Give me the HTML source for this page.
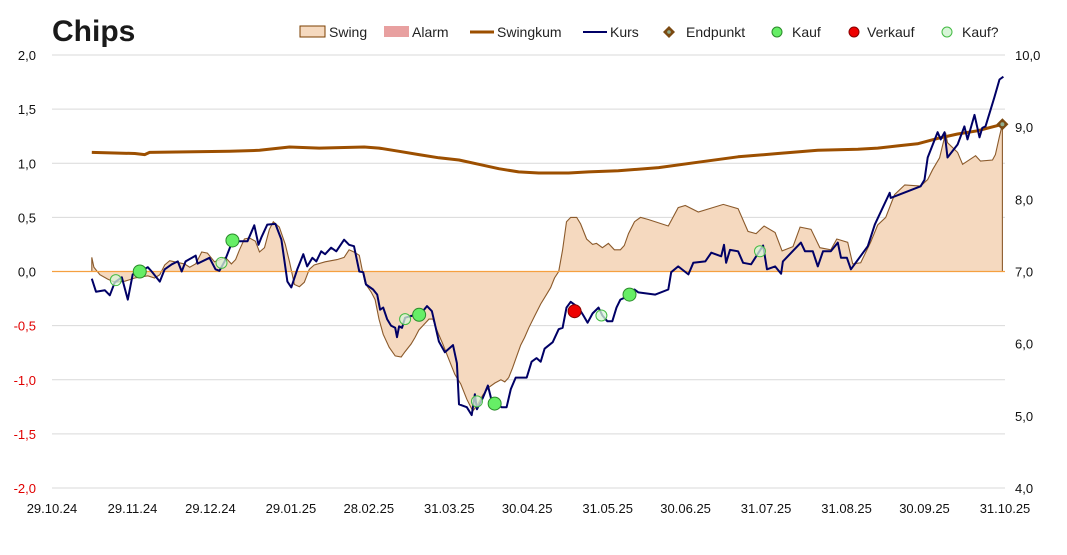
<!DOCTYPE html>
<html><head><meta charset="utf-8">
<style>
html,body{margin:0;padding:0;background:#fff;}
svg{display:block;font-family:"Liberation Sans",Arial,sans-serif;}
</style></head>
<body>
<svg id="chart" width="1067" height="555" viewBox="0 0 1067 555" xmlns="http://www.w3.org/2000/svg">
<text x="52" y="41" font-size="30" font-weight="bold" fill="#1a1a1a">Chips</text>
<g id="legend" font-size="14" fill="#222">
  <g><rect x="300" y="26" width="25" height="11" fill="#f5d9bf" stroke="#7b3f00" stroke-width="1"/><text x="329" y="37">Swing</text></g>
  <g><rect x="384" y="26" width="25" height="11" fill="#e8a0a0"/><text x="412" y="37">Alarm</text></g>
  <g><line x1="470" y1="32" x2="494" y2="32" stroke="#9c4f00" stroke-width="3"/><text x="497" y="37">Swingkum</text></g>
  <g><line x1="583" y1="32" x2="607" y2="32" stroke="#000066" stroke-width="2"/><text x="610" y="37">Kurs</text></g>
  <g><polygon points="669,26 675,32 669,38 663,32" fill="#7b4a12"/><circle cx="669" cy="32" r="1.8" fill="#8fae8f"/><text x="686" y="37">Endpunkt</text></g>
  <g><circle cx="777" cy="32" r="5" fill="#66ee66" stroke="#2a8a2a" stroke-width="1"/><text x="792" y="37">Kauf</text></g>
  <g><circle cx="854" cy="32" r="5" fill="#ee0000" stroke="#880000" stroke-width="1"/><text x="867" y="37">Verkauf</text></g>
  <g><circle cx="947" cy="32" r="5" fill="#d8f5d8" stroke="#44bb44" stroke-width="1"/><text x="962" y="37">Kauf?</text></g>
</g>
<g id="grid"></g>
<g id="swingArea"></g>
<g id="zero"></g>
<g id="lines"></g>
<g id="markers"></g>
<g id="axes" font-size="13"></g>
</svg>
<script>
const xTickDays=[0,31,61,92,122,153,183,214,244,275,306,336,367];
const xTickLabels=["29.10.24","29.11.24","29.12.24","29.01.25","28.02.25","31.03.25","30.04.25","31.05.25","30.06.25","31.07.25","31.08.25","30.09.25","31.10.25"];
const leftTicks=[2,1.5,1,0.5,0,-0.5,-1,-1.5,-2];
const rightTicks=[10,9,8,7,6,5,4];

const kursDays=[15.3,16.9,20.3,22.2,24.1,26.8,29.1,31.0,33.7,36.8,38.3,41.4,43.3,46.0,48.3,49.8,51.3,55.2,55.9,60.5,62.8,64.3,66.3,69.3,75.1,77.7,79.3,80.4,82.7,85.8,88.1,90.4,91.9,94.2,96.5,98.0,100.0,101.5,103.4,104.9,107.2,109.2,112.2,114.1,116.0,118.0,119.5,120.6,123.3,124.9,126.0,127.2,128.7,130.2,131.8,132.5,133.3,134.4,135.6,138.6,141.3,144.0,145.9,148.6,150.9,154.0,155.5,156.3,159.3,161.2,162.4,163.2,165.5,167.4,168.9,172.7,174.6,176.2,178.1,182.3,184.2,186.1,187.7,189.2,192.3,194.6,196.1,197.6,199.2,202.2,204.1,205.7,207.6,209.9,211.4,213.3,215.2,216.8,218.3,220.6,222.1,223.7,225.2,231.7,236.7,237.8,240.5,244.4,246.3,250.9,253.2,257.0,258.1,258.9,260.4,263.5,265.4,268.5,273.1,274.6,277.7,280.0,280.7,287.6,289.2,292.2,294.1,296.1,299.1,301.8,303.0,305.3,306.8,313.3,316.0,321.7,322.1,333.6,335.1,336.3,340.1,341.3,342.8,343.9,347.8,350.4,351.6,354.3,356.2,357.3,358.5,361.9,363.9,365.4];
const kursValues=[6.90,6.72,6.74,6.67,6.85,6.92,6.61,6.96,7.00,7.06,7.00,6.86,7.03,7.10,7.14,7.00,7.14,7.22,7.11,7.19,7.03,7.01,7.14,7.42,7.42,7.64,7.37,7.47,7.65,7.66,7.44,6.86,6.78,7.03,7.24,7.07,7.19,7.14,7.28,7.24,7.33,7.28,7.44,7.37,7.35,7.00,6.99,6.82,6.75,6.68,6.47,6.50,6.34,6.25,6.22,6.09,6.24,6.22,6.36,6.39,6.40,6.52,6.45,6.03,5.88,5.98,5.73,5.16,5.12,5.01,5.30,5.09,5.25,5.42,5.20,5.12,5.12,5.37,5.53,5.53,5.75,5.80,5.75,5.93,6.02,6.20,6.22,6.50,6.58,6.50,6.39,6.29,6.42,6.50,6.39,6.31,6.31,6.50,6.61,6.65,6.72,6.75,6.71,6.68,6.75,6.99,7.07,6.96,7.12,7.14,7.26,7.21,7.37,7.12,7.30,7.28,7.12,7.10,7.36,7.03,7.07,6.97,7.14,7.40,7.28,7.28,7.07,7.28,7.28,7.40,7.19,7.19,7.03,7.35,7.65,8.09,8.02,8.18,8.27,8.58,8.93,8.83,8.93,8.58,8.76,9.01,8.83,9.17,8.86,8.99,9.01,9.41,9.66,9.70];

const swingDays=[15.3,16.1,18.4,21.4,24.1,28.0,31.8,36.8,39.4,41.4,43.3,45.2,50.9,52.9,55.2,57.5,59.7,62.4,66.6,68.9,70.5,72.0,73.9,75.8,78.1,79.7,81.6,83.5,85.0,87.3,89.6,91.2,93.1,95.0,96.9,98.8,100.7,104.9,109.5,112.2,114.1,116.0,118.0,119.1,120.3,122.6,124.1,125.6,127.2,129.5,131.8,134.1,135.6,137.9,139.4,140.9,143.2,144.8,146.3,147.8,150.1,152.4,154.7,157.0,159.3,161.6,163.2,165.5,167.8,170.1,172.4,173.9,175.4,176.9,178.5,180.0,181.5,183.1,185.4,187.7,190.0,191.5,193.0,194.6,196.1,197.6,199.2,201.5,203.0,205.3,207.6,209.1,211.4,213.7,216.0,218.3,219.8,221.4,223.7,226.0,229.0,236.7,240.5,243.2,248.2,257.8,263.5,267.3,270.4,273.5,277.7,280.4,284.6,287.3,291.5,294.9,299.1,301.4,305.6,307.5,310.6,314.4,317.1,320.2,323.6,327.5,333.6,336.3,338.2,340.9,343.2,343.9,347.8,349.7,354.7,356.6,361.2,362.3,363.9,365.0];
const swingValues=[0.13,0.04,-0.03,-0.07,-0.10,-0.09,-0.06,-0.04,-0.06,-0.03,0.06,0.10,0.07,0.04,0.07,0.18,0.17,0.09,0.13,0.07,0.11,0.20,0.30,0.31,0.28,0.18,0.22,0.39,0.46,0.41,0.25,0.09,-0.12,-0.14,-0.10,0.02,0.06,0.09,0.11,0.13,0.20,0.18,0.15,0.02,-0.11,-0.19,-0.26,-0.44,-0.58,-0.70,-0.78,-0.79,-0.74,-0.67,-0.61,-0.54,-0.48,-0.44,-0.44,-0.54,-0.67,-0.81,-0.95,-1.04,-1.18,-1.29,-1.24,-1.14,-1.07,-1.03,-1.00,-1.02,-0.98,-0.89,-0.78,-0.68,-0.61,-0.52,-0.41,-0.30,-0.21,-0.15,-0.06,0.00,0.20,0.46,0.50,0.50,0.44,0.30,0.25,0.26,0.22,0.26,0.20,0.20,0.24,0.35,0.46,0.50,0.48,0.42,0.59,0.61,0.55,0.62,0.58,0.37,0.35,0.42,0.36,0.19,0.23,0.41,0.39,0.22,0.20,0.30,0.27,0.07,0.08,0.27,0.43,0.50,0.71,0.80,0.79,0.85,0.94,1.05,1.28,1.19,1.10,0.99,1.07,1.02,1.03,1.08,1.25,1.36];

const kumDays=[15.3,31.8,35.6,37.5,68.2,79.7,91.2,102.6,119.9,125.6,133.3,140.9,148.6,156.3,163.9,171.6,179.2,186.9,198.4,206.1,217.5,233.0,248.2,263.5,278.8,294.1,309.5,317.1,324.8,332.4,340.1,347.8,355.4,365.0];
const kumValues=[1.10,1.09,1.08,1.10,1.11,1.12,1.15,1.14,1.15,1.14,1.11,1.08,1.05,1.03,0.99,0.95,0.92,0.91,0.91,0.92,0.93,0.96,1.01,1.06,1.09,1.12,1.13,1.14,1.16,1.18,1.23,1.27,1.30,1.36];

const kaufDays=[33.7,69.3,141.0,170.0,221.8];
const kaufValues=[7.00,7.43,6.40,5.17,6.68];
const kaufFragDays=[24.5,65.1,135.6,163.2,211.0,271.9];
const kaufFragValues=[6.88,7.12,6.34,5.20,6.39,7.28];
const verkaufDays=[200.7];
const verkaufValues=[6.45];
const endDay=365.0;
const endValue=1.36;

const X0=52,X1=1005,Y0=55,Y1=488;
const xDomMax=366;
function xs(d){return X0+(X1-X0)*d/xDomMax;}
function yl(v){return Y1-(v+2)/4*(Y1-Y0);}
function yr(v){return Y1-(v-4)/6*(Y1-Y0);}
const NS="http://www.w3.org/2000/svg";
function mk(tag,attrs,parent){const e=document.createElementNS(NS,tag);for(const k in attrs)e.setAttribute(k,attrs[k]);parent.appendChild(e);return e;}

const grid=document.getElementById('grid');
leftTicks.forEach(v=>{ if(v===0) return;
  const l=mk('line',{x1:X0,x2:X1,y1:yl(v),y2:yl(v),stroke:'#d9d9d9','stroke-width':1},grid);
  
  
});

const sa=document.getElementById('swingArea');
let d='M'+xs(swingDays[0])+','+yl(0);
swingDays.forEach((dd,i)=>{d+=' L'+xs(dd).toFixed(1)+','+yl(swingValues[i]).toFixed(1);});
d+=' L'+xs(swingDays[swingDays.length-1])+','+yl(0)+' Z';
const area=mk('path',{d:d,fill:'#f5d9bf',stroke:'none'},sa);


let d2='M'+xs(swingDays[0])+','+yl(0);
swingDays.forEach((dd,i)=>{d2+=' L'+xs(dd).toFixed(1)+','+yl(swingValues[i]).toFixed(1);});
d2+=' L'+xs(swingDays[swingDays.length-1])+','+yl(0);
const sline=mk('path',{d:d2,fill:'none',stroke:'#8b5a2b','stroke-width':1.1},sa);



const z=mk('line',{x1:X0,x2:X1,y1:yl(0),y2:yl(0),stroke:'#f5a040','stroke-width':1.3},document.getElementById('zero'));



const lines=document.getElementById('lines');
function poly(days,vals,scale){return days.map((dd,i)=>xs(dd).toFixed(1)+','+scale(vals[i]).toFixed(1)).join(' ');}
const kum=mk('polyline',{points:poly(kumDays,kumValues,yl),fill:'none',stroke:'#9c4f00','stroke-width':3,'stroke-linejoin':'round'},lines);


const kurs=mk('polyline',{points:poly(kursDays,kursValues,yr),fill:'none',stroke:'#000066','stroke-width':2,'stroke-linejoin':'round'},lines);



const mg=document.getElementById('markers');
kaufFragDays.forEach((dd,i)=>{
  const c=mk('circle',{cx:xs(dd),cy:yr(kaufFragValues[i]),r:5.5,fill:'#d8f5d8','fill-opacity':0.75,stroke:'#44bb44','stroke-width':1},mg);
  
  
});
kaufDays.forEach((dd,i)=>{
  const c=mk('circle',{cx:xs(dd),cy:yr(kaufValues[i]),r:6.5,fill:'#66ee66',stroke:'#2a8a2a','stroke-width':1},mg);
  
  
});
verkaufDays.forEach((dd,i)=>{
  const c=mk('circle',{cx:xs(dd),cy:yr(verkaufValues[i]),r:6.5,fill:'#ee0000',stroke:'#880000','stroke-width':1},mg);
  
  
});
const ex=xs(endDay),ey=yl(endValue);
const ep=mk('polygon',{points:`${ex},${ey-6} ${ex+6},${ey} ${ex},${ey+6} ${ex-6},${ey}`,fill:'#7b4a12'},mg);


const epc=mk('circle',{cx:ex,cy:ey,r:2,fill:'#8fae8f'},mg);



const ax=document.getElementById('axes');
leftTicks.forEach(v=>{
  const t=mk('text',{x:36,y:yl(v)+5,'text-anchor':'end',fill:v<0?'#e00000':'#111'},ax);
  t.textContent=v.toFixed(1).replace('.',',');
  
  
});
rightTicks.forEach(v=>{
  const t=mk('text',{x:1015,y:yr(v)+5,'text-anchor':'start',fill:'#111'},ax);
  t.textContent=v.toFixed(1).replace('.',',');
  
  
});
xTickDays.forEach((dd,i)=>{
  const t=mk('text',{x:X0+(X1-X0)*dd/367,y:513,'text-anchor':'middle',fill:'#111'},ax);
  t.textContent=xTickLabels[i];
  
  
});
</script>
</body></html>
